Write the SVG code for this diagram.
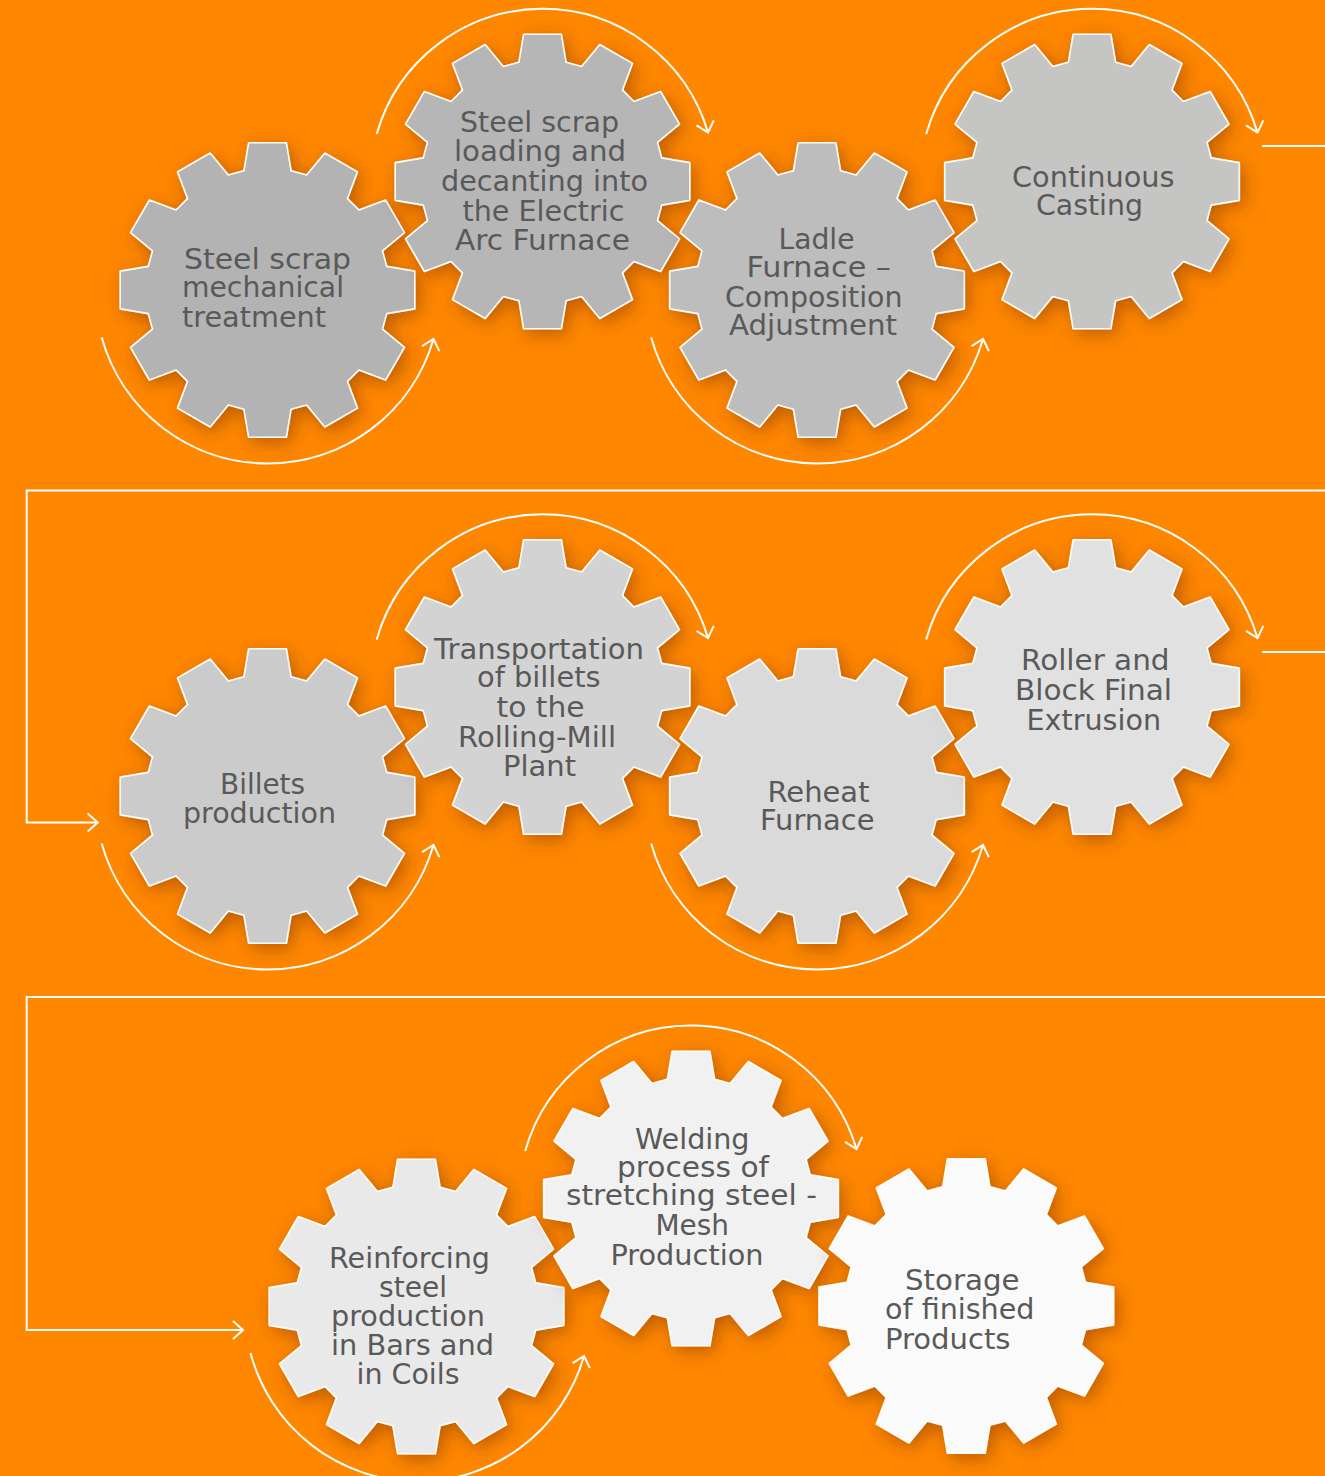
<svg xmlns="http://www.w3.org/2000/svg" xmlns:xlink="http://www.w3.org/1999/xlink" width="1325" height="1476" viewBox="0 0 1325 1476">
<defs>
<style>
.gear{stroke:#FFFFFF;stroke-width:1.6;stroke-linejoin:round;filter:url(#sh)}
.lbl{font-family:"DejaVu Sans","Verdana",sans-serif;font-size:29px;fill:#595959}
.conn{fill:none;stroke:#FFFFFF;stroke-width:2}
</style>
<filter id="sh" x="-25%" y="-25%" width="150%" height="150%">
<feDropShadow dx="4" dy="5" stdDeviation="9" flood-color="#7a2e00" flood-opacity="0.5"/>
</filter>
<path id="gear" d="M119.19,-23.6 L147.3,-18.87 L147.3,18.87 L119.19,23.6 L115.02,39.16 L137,57.31 L118.13,89.99 L91.42,80.03 L80.03,91.42 L89.99,118.13 L57.31,137 L39.16,115.02 L23.6,119.19 L18.87,147.3 L-18.87,147.3 L-23.6,119.19 L-39.16,115.02 L-57.31,137 L-89.99,118.13 L-80.03,91.42 L-91.42,80.03 L-118.13,89.99 L-137,57.31 L-115.02,39.16 L-119.19,23.6 L-147.3,18.87 L-147.3,-18.87 L-119.19,-23.6 L-115.02,-39.16 L-137,-57.31 L-118.13,-89.99 L-91.42,-80.03 L-80.03,-91.42 L-89.99,-118.13 L-57.31,-137 L-39.16,-115.02 L-23.6,-119.19 L-18.87,-147.3 L18.87,-147.3 L23.6,-119.19 L39.16,-115.02 L57.31,-137 L89.99,-118.13 L80.03,-91.42 L91.42,-80.03 L118.13,-89.99 L137,-57.31 L115.02,-39.16 Z"/>
<marker id="arr" markerUnits="userSpaceOnUse" markerWidth="26" markerHeight="26" viewBox="-13 -13 26 26" refX="0" refY="0" orient="auto">
<path d="M-10,-9 L0,0 L-10,9" fill="none" stroke="#FFFFFF" stroke-width="2"/>
</marker>
</defs>
<rect x="0" y="0" width="1325" height="1476" fill="#FF8700"/>

<g id="node-1">
<use href="#gear" xlink:href="#gear" class="gear" fill="#B3B3B3" transform="translate(267.5,290)"/>
<text class="lbl"><tspan x="184" y="268.5" textLength="167" lengthAdjust="spacingAndGlyphs">Steel scrap</tspan><tspan x="182" y="297" textLength="162" lengthAdjust="spacingAndGlyphs">mechanical</tspan><tspan x="182" y="326.5" textLength="144" lengthAdjust="spacingAndGlyphs">treatment</tspan></text>
</g>
<g id="node-2">
<use href="#gear" xlink:href="#gear" class="gear" fill="#B6B6B6" transform="translate(542.5,181.5)"/>
<text class="lbl"><tspan x="460" y="131.5" textLength="159" lengthAdjust="spacingAndGlyphs">Steel scrap</tspan><tspan x="454" y="161" textLength="172" lengthAdjust="spacingAndGlyphs">loading and</tspan><tspan x="441" y="190.5" textLength="207" lengthAdjust="spacingAndGlyphs">decanting into</tspan><tspan x="462.5" y="220.5" textLength="162" lengthAdjust="spacingAndGlyphs">the Electric</tspan><tspan x="455" y="250" textLength="175" lengthAdjust="spacingAndGlyphs">Arc Furnace</tspan></text>
</g>
<g id="node-3">
<use href="#gear" xlink:href="#gear" class="gear" fill="#BDBDBD" transform="translate(817,290)"/>
<text class="lbl"><tspan x="778.5" y="248.5" textLength="76" lengthAdjust="spacingAndGlyphs">Ladle</tspan><tspan x="746.5" y="277" textLength="144.5" lengthAdjust="spacingAndGlyphs">Furnace –</tspan><tspan x="725" y="306.5" textLength="177.5" lengthAdjust="spacingAndGlyphs">Composition</tspan><tspan x="729" y="335" textLength="168" lengthAdjust="spacingAndGlyphs">Adjustment</tspan></text>
</g>
<g id="node-4">
<use href="#gear" xlink:href="#gear" class="gear" fill="#C5C5C3" transform="translate(1092,181.5)"/>
<text class="lbl"><tspan x="1012" y="186.5" textLength="162.5" lengthAdjust="spacingAndGlyphs">Continuous</tspan><tspan x="1036" y="215" textLength="107" lengthAdjust="spacingAndGlyphs">Casting</tspan></text>
</g>
<g id="node-5">
<use href="#gear" xlink:href="#gear" class="gear" fill="#CBCBCB" transform="translate(267.5,796)"/>
<text class="lbl"><tspan x="220" y="793.5" textLength="85" lengthAdjust="spacingAndGlyphs">Billets</tspan><tspan x="183" y="822.5" textLength="153" lengthAdjust="spacingAndGlyphs">production</tspan></text>
</g>
<g id="node-6">
<use href="#gear" xlink:href="#gear" class="gear" fill="#D3D3D3" transform="translate(542.5,687)"/>
<text class="lbl"><tspan x="434" y="658.5" textLength="210" lengthAdjust="spacingAndGlyphs">Transportation</tspan><tspan x="477" y="687" textLength="123.5" lengthAdjust="spacingAndGlyphs">of billets</tspan><tspan x="496.5" y="716.5" textLength="88" lengthAdjust="spacingAndGlyphs">to the</tspan><tspan x="458" y="746.5" textLength="158" lengthAdjust="spacingAndGlyphs">Rolling-Mill</tspan><tspan x="503" y="776" textLength="73" lengthAdjust="spacingAndGlyphs">Plant</tspan></text>
</g>
<g id="node-7">
<use href="#gear" xlink:href="#gear" class="gear" fill="#DADADA" transform="translate(817,796)"/>
<text class="lbl"><tspan x="767.5" y="801.5" textLength="102" lengthAdjust="spacingAndGlyphs">Reheat</tspan><tspan x="760" y="830" textLength="114.5" lengthAdjust="spacingAndGlyphs">Furnace</tspan></text>
</g>
<g id="node-8">
<use href="#gear" xlink:href="#gear" class="gear" fill="#E1E1E1" transform="translate(1092,687)"/>
<text class="lbl"><tspan x="1021" y="670" textLength="148.5" lengthAdjust="spacingAndGlyphs">Roller and</tspan><tspan x="1015" y="700" textLength="157" lengthAdjust="spacingAndGlyphs">Block Final</tspan><tspan x="1026.5" y="729.5" textLength="134.5" lengthAdjust="spacingAndGlyphs">Extrusion</tspan></text>
</g>
<g id="node-9">
<use href="#gear" xlink:href="#gear" class="gear" fill="#E9E9E9" transform="translate(416.5,1306.5)"/>
<text class="lbl"><tspan x="329" y="1267.5" textLength="161" lengthAdjust="spacingAndGlyphs">Reinforcing</tspan><tspan x="379" y="1297" textLength="68" lengthAdjust="spacingAndGlyphs">steel</tspan><tspan x="331" y="1326" textLength="154" lengthAdjust="spacingAndGlyphs">production</tspan><tspan x="331" y="1355" textLength="163" lengthAdjust="spacingAndGlyphs">in Bars and</tspan><tspan x="356.5" y="1384" textLength="103" lengthAdjust="spacingAndGlyphs">in Coils</tspan></text>
</g>
<g id="node-10">
<use href="#gear" xlink:href="#gear" class="gear" fill="#F1F1F1" transform="translate(691,1198.5)"/>
<text class="lbl"><tspan x="635" y="1148.5" textLength="114.5" lengthAdjust="spacingAndGlyphs">Welding</tspan><tspan x="617" y="1177" textLength="152" lengthAdjust="spacingAndGlyphs">process of</tspan><tspan x="566" y="1205" textLength="251" lengthAdjust="spacingAndGlyphs">stretching steel -</tspan><tspan x="655.5" y="1235" textLength="73.5" lengthAdjust="spacingAndGlyphs">Mesh</tspan><tspan x="610.5" y="1265" textLength="153" lengthAdjust="spacingAndGlyphs">Production</tspan></text>
</g>
<g id="node-11">
<use href="#gear" xlink:href="#gear" class="gear" fill="#FAFAFA" transform="translate(966.3,1306)"/>
<text class="lbl"><tspan x="905" y="1289.5" textLength="114.5" lengthAdjust="spacingAndGlyphs">Storage</tspan><tspan x="885" y="1318.5" textLength="149.5" lengthAdjust="spacingAndGlyphs">of finished</tspan><tspan x="885" y="1348.5" textLength="125.5" lengthAdjust="spacingAndGlyphs">Products</tspan></text>
</g>

<g id="connectors">
<path class="conn" marker-end="url(#arr)" d="M101.7,337.5 A172.5,172.5 0 0 0 433.5,339"/>
<path class="conn" marker-end="url(#arr)" d="M376.7,134 A172.5,172.5 0 0 1 708,132.5"/>
<path class="conn" marker-end="url(#arr)" d="M651.2,337.5 A172.5,172.5 0 0 0 983,339"/>
<path class="conn" marker-end="url(#arr)" d="M926.2,134 A172.5,172.5 0 0 1 1257.5,132.5"/>
<path class="conn" d="M1262,146 H1325"/>
<path class="conn" marker-end="url(#arr)" d="M1325,490.5 H26.7 V822.5 H97.7"/>
<path class="conn" marker-end="url(#arr)" d="M101.7,843.5 A172.5,172.5 0 0 0 433.5,845"/>
<path class="conn" marker-end="url(#arr)" d="M376.7,639.5 A172.5,172.5 0 0 1 708,638"/>
<path class="conn" marker-end="url(#arr)" d="M651.2,843.5 A172.5,172.5 0 0 0 983,845"/>
<path class="conn" marker-end="url(#arr)" d="M926.2,639.5 A172.5,172.5 0 0 1 1257.5,638"/>
<path class="conn" d="M1262,652 H1325"/>
<path class="conn" marker-end="url(#arr)" d="M1325,997 H26.7 V1330 H243"/>
<path class="conn" marker-end="url(#arr)" d="M250.5,1353 A173,173 0 0 0 584,1356"/>
<path class="conn" marker-end="url(#arr)" d="M525.2,1151 A172.5,172.5 0 0 1 856.5,1149"/>
</g>
</svg>
